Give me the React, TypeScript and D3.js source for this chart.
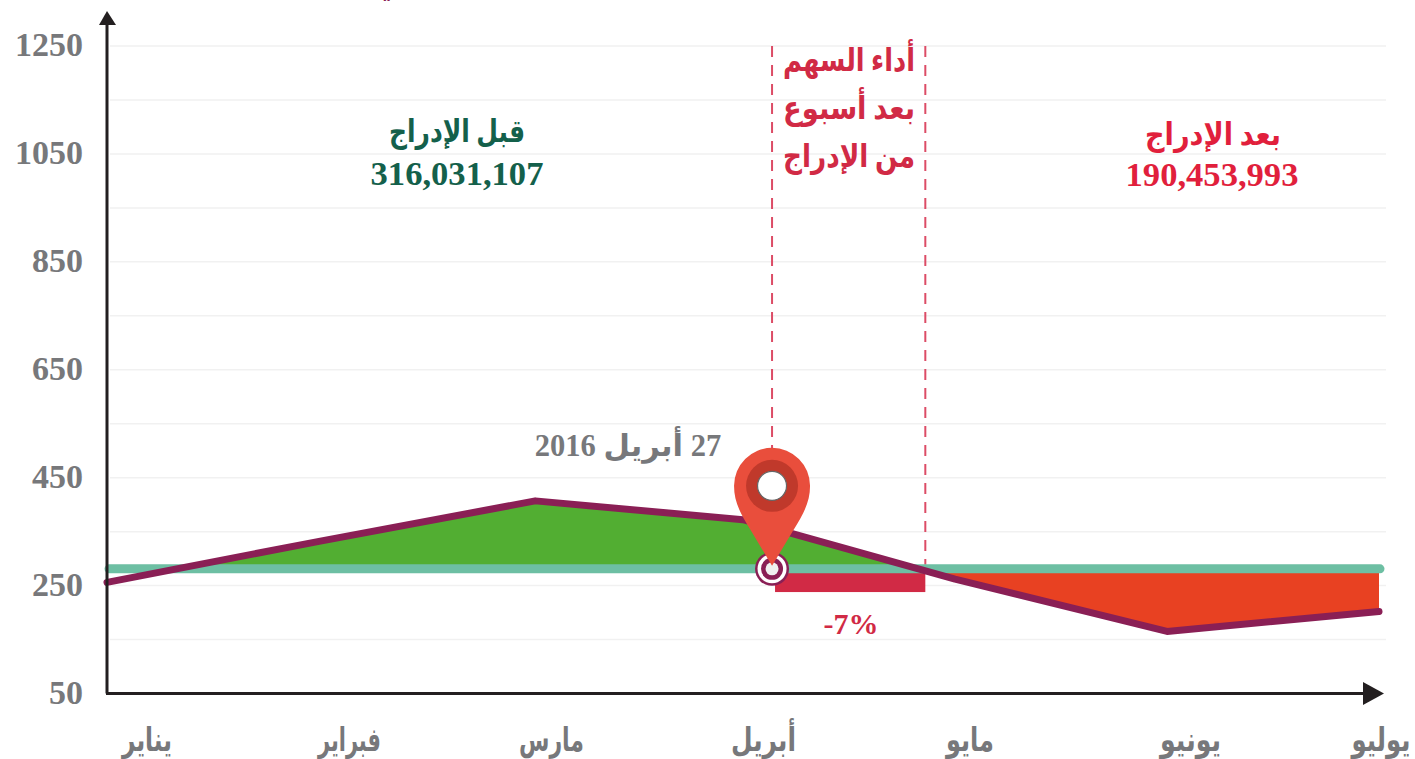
import React from "react";
import * as d3 from "d3";

const W = 1415, H = 759;
const months = ["يناير", "فبراير", "مارس", "أبريل", "مايو", "يونيو", "يوليو"];
const monthPositions = [0, 1, 2.02, 3, 4, 5, 6];
const monthLabelCenters = [147, 349.5, 551.5, 763.5, 970, 1190.5, 1381];
const monthLabelWidths = [50, 63, 65, 65, 48, 61, 59];
const priceValues = [256, 332, 407, 372, 262, 165, 202];
const listingPrice = 281;
const yTickValues = [50, 250, 450, 650, 850, 1050, 1250];
const gridValues = [150, 250, 350, 450, 550, 650, 750, 850, 950, 1050, 1150, 1250];
const listingIndex = 3.137;
const weekAfterIndex = 3.86;
const weekBarBottom = 238;
const beforeTitle = "قبل الإدراج";
const beforeValue = "316,031,107";
const afterTitle = "بعد الإدراج";
const afterValue = "190,453,993";
const weekLines = ["أداء السهم", "بعد أسبوع", "من الإدراج"];
const weekLineWidths = [132, 132, 132];
const dateLabel = "27 أبريل 2016";
const weekChange = "-7%";

const SERIF = "'Liberation Serif','DejaVu Sans',serif";
const GREY = "#77787b";
const CRIMSON = "#d12a45";

export default function App() {
  const x = d3.scaleLinear().domain([0, 6]).range([107, 1379]);
  const y = d3.scaleLinear().domain([50, 1250]).range([693.5, 46]);
  const pts = priceValues.map((v, i) => [monthPositions[i], v] as [number, number]);
  const linePath = d3.line<[number, number]>().x(d => x(d[0])).y(d => y(d[1]))(pts) || "";
  const areaPath = d3.area<[number, number]>().x(d => x(d[0])).y0(y(listingPrice)).y1(d => y(d[1]))(pts) || "";
  const by = y(listingPrice);
  const lx = x(listingIndex);
  const wx = x(weekAfterIndex);
  const pinTop = by - 120;
  const pinCy = pinTop + 37;
  const pinPath = `M${lx} ${by - 3} L${lx - 21} ${by - 38} C${lx - 32} ${by - 56} ${lx - 38} ${pinCy + 16} ${lx - 38} ${pinCy} A38 38 0 0 1 ${lx + 38} ${pinCy} C${lx + 38} ${pinCy + 16} ${lx + 32} ${by - 56} ${lx + 21} ${by - 38} Z`;
  return (
    <svg width={W} height={H} style={{ position: "absolute", left: 0, top: 0, background: "#fff" }}>
      <defs>
        <clipPath id="above"><rect x={0} y={0} width={W} height={by} /></clipPath>
        <clipPath id="below"><rect x={wx} y={by} width={W - wx} height={H - by} /></clipPath>
      </defs>
      <text x={388} y={-6} textAnchor="middle" fontFamily={SERIF} fontSize={30} fontWeight={700} fill="#8a1f55">ي</text>
      {gridValues.map(v => (
        <line key={v} x1={110} x2={1386} y1={y(v)} y2={y(v)} stroke="#f1f1f1" strokeWidth={1.5} />
      ))}
      {yTickValues.map(v => (
        <text key={v} x={83} y={y(v) + 10} textAnchor="end" fontFamily={SERIF} fontSize={34} fontWeight={700} fill={GREY}>{v}</text>
      ))}
      {months.map((m, i) => (
        <text key={m} x={monthLabelCenters[i]} y={751} textAnchor="middle" direction="rtl" fontFamily={SERIF} fontSize={33} fontWeight={700} fill={GREY} textLength={monthLabelWidths[i]} lengthAdjust="spacingAndGlyphs">{m}</text>
      ))}
      <path d={areaPath} fill="#52ae32" clipPath="url(#above)" />
      <path d={areaPath} fill="#e84122" clipPath="url(#below)" />
      <rect x={lx + 3} y={by + 4} width={wx - lx - 3} height={y(weekBarBottom) - by - 4} fill={CRIMSON} />
      {[lx, wx].map(px => (
        <line key={px} x1={px} x2={px} y1={y(1250)} y2={by - 4} stroke="#dc4c66" strokeWidth={2} strokeDasharray="11 8" />
      ))}
      <line x1={x(0) + 2} x2={x(6) + 1} y1={by} y2={by} stroke="#6dbfa3" strokeWidth={9} strokeLinecap="round" />
      <path d={linePath} fill="none" stroke="#8a1f55" strokeWidth={7} strokeLinecap="round" strokeLinejoin="round" />
      <line x1={107} x2={107} y1={693.5} y2={22} stroke="#231f20" strokeWidth={3} />
      <path d="M107 11 L116 25 L99 25 Z" fill="#231f20" />
      <line x1={106} x2={1366} y1={693.5} y2={693.5} stroke="#231f20" strokeWidth={3} />
      <path d="M1384 693.5 L1363 682 L1363 705 Z" fill="#231f20" />

      <circle cx={lx} cy={by} r={17} fill="#8a1f55" />
      <circle cx={lx} cy={by} r={14.5} fill="#fff" />
      <circle cx={lx} cy={by} r={11} fill="#8a1f55" />
      <circle cx={lx} cy={by} r={6.5} fill="#f0f0f0" />
      <path d={pinPath} fill="#e94e3c" />
      <circle cx={lx} cy={pinCy} r={26} fill="#c0392b" />
      <circle cx={lx} cy={pinCy} r={14.5} fill="#fff" stroke="#666" strokeWidth={1.2} />

      <text x={457} y={142} textAnchor="middle" direction="rtl" fontFamily={SERIF} fontSize={31} fontWeight={700} fill="#14604b" textLength={136} lengthAdjust="spacingAndGlyphs">{beforeTitle}</text>
      <text x={457} y={185} textAnchor="middle" fontFamily={SERIF} fontSize={34.6} fontWeight={700} fill="#14604b">{beforeValue}</text>
      <text x={1213} y={145} textAnchor="middle" direction="rtl" fontFamily={SERIF} fontSize={31} fontWeight={700} fill="#e11f3c" textLength={136} lengthAdjust="spacingAndGlyphs">{afterTitle}</text>
      <text x={1212} y={186} textAnchor="middle" fontFamily={SERIF} fontSize={34.6} fontWeight={700} fill="#e11f3c">{afterValue}</text>
      {weekLines.map((t, i) => (
        <text key={t} x={849} y={71 + i * 48} textAnchor="middle" direction="rtl" fontFamily={SERIF} fontSize={32} fontWeight={700} fill={CRIMSON} textLength={weekLineWidths[i]} lengthAdjust="spacingAndGlyphs">{t}</text>
      ))}
      <text x={628} y={456} textAnchor="middle" direction="rtl" fontFamily={SERIF} fontSize={30.5} fontWeight={700} fill={GREY}>{dateLabel}</text>
      <text x={851} y={634} textAnchor="middle" fontFamily={SERIF} fontSize={30} fontWeight={700} fill={CRIMSON}>{weekChange}</text>
    </svg>
  );
}
